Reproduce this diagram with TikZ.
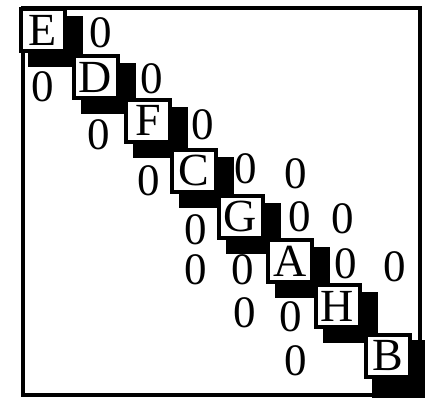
\documentclass[tikz,border=0pt]{standalone}
\usepackage{fontspec}
\setmainfont{Liberation Serif}
\pgfdeclarelayer{bg}
\pgfsetlayers{bg,main}
\begin{document}
\begin{tikzpicture}[x=1pt,y=-1pt,
  cell/.style={draw=black, fill=white, line width=4pt, minimum width=44pt,
    minimum height=42pt, inner sep=0pt, font=\fontsize{46}{46}\selectfont},
  zero/.style={inner sep=0pt, text height=30pt, text depth=0pt,
    font=\fontsize{45}{45}\selectfont},
  frame/.style={draw=black, line width=4pt},
  shade/.style={fill=black}]
\useasboundingbox (0,0) rectangle (425,397);
\clip (0,0) rectangle (425,397);
% diagonal cells
\node[cell] (E) at (43,30) {E};
\node[cell] (D) at (95.5,77) {D};
\node[cell] (F) at (148,120.5) {F};
\node[cell] (C) at (193.5,170.5) {C};
\node[cell] (G) at (240.5,216.5) {G};
\node[cell] (A) at (290,261) {A};
\node[cell] (H) at (337.5,306) {H};
\node[cell] (B) at (388,355.5) {B};
% zeros
\node[zero] (z1) at (101,32) {0};
\node[zero] (z2) at (43,86) {0};
\node[zero] (z3) at (152,78) {0};
\node[zero] (z4) at (99,134) {0};
\node[zero] (z5) at (203,124) {0};
\node[zero] (z6) at (149,180) {0};
\node[zero] (z7) at (246,168) {0};
\node[zero] (z8) at (296,173) {0};
\node[zero] (z9) at (196,229) {0};
\node[zero] (z10) at (300,216) {0};
\node[zero] (z11) at (343,218) {0};
\node[zero] (z12) at (196,269) {0};
\node[zero] (z13) at (243,269) {0};
\node[zero] (z14) at (346,263) {0};
\node[zero] (z15) at (395,266) {0};
\node[zero] (z16) at (245,312) {0};
\node[zero] (z17) at (291,316) {0};
\node[zero] (z18) at (296,360) {0};
\begin{pgfonlayer}{bg}
  \draw[frame] (23,7.5) rectangle (419.5,395);
  \foreach \n in {E,D,F,C,G,A,H}
    \fill[shade] ([shift={(9,9)}]\n.north west) rectangle ([shift={(16,14)}]\n.south east);
  \fill[shade] ([shift={(8,7)}]B.north west) rectangle ([shift={(20,22)}]B.south east);
\end{pgfonlayer}
\end{tikzpicture}
\end{document}
